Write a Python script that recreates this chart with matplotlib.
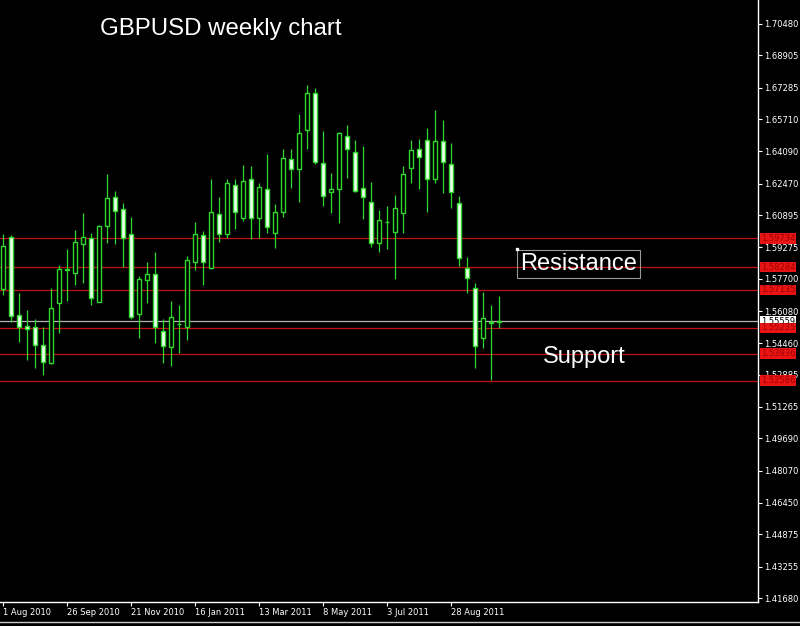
import numpy as np
import matplotlib.pyplot as plt

# weekly GBPUSD candles, first one is the week of 1 Aug 2010
opens = [1.5719, 1.5979, 1.5588, 1.5533, 1.5528, 1.5438, 1.5347, 1.5648, 1.5814, 1.5799,
         1.5944, 1.5974, 1.5653, 1.6035, 1.6180, 1.6120, 1.5994, 1.5593, 1.5764, 1.5794,
         1.5508, 1.5428, 1.5543, 1.5528, 1.5854, 1.5989, 1.5824, 1.6095, 1.5994, 1.6240,
         1.6075, 1.6270, 1.6075, 1.6220, 1.5999, 1.6105, 1.6371, 1.6321, 1.6516, 1.6702,
         1.6351, 1.6205, 1.6220, 1.6486, 1.6406, 1.6225, 1.6155, 1.5949, 1.6055, 1.6005,
         1.6100, 1.6326, 1.6421, 1.6466, 1.6270, 1.6461, 1.6346, 1.6150, 1.5824, 1.5724,
         1.5473, 1.5553, 1.5553]
highs = [1.5994, 1.5989, 1.5698, 1.5613, 1.5568, 1.5528, 1.5724, 1.5839, 1.5919, 1.6015,
         1.6100, 1.5999, 1.6040, 1.6295, 1.6210, 1.6150, 1.6080, 1.5784, 1.5854, 1.5904,
         1.5568, 1.5658, 1.5638, 1.5884, 1.6055, 1.6010, 1.6270, 1.6180, 1.6270, 1.6270,
         1.6341, 1.6336, 1.6250, 1.6396, 1.6145, 1.6421, 1.6421, 1.6597, 1.6742, 1.6727,
         1.6511, 1.6301, 1.6506, 1.6541, 1.6466, 1.6436, 1.6255, 1.6115, 1.6135, 1.6190,
         1.6336, 1.6466, 1.6471, 1.6526, 1.6617, 1.6566, 1.6451, 1.6185, 1.5879, 1.5749,
         1.5703, 1.5638, 1.5683]
lows = [1.5688, 1.5553, 1.5453, 1.5362, 1.5322, 1.5287, 1.5342, 1.5498, 1.5658, 1.5739,
        1.5749, 1.5638, 1.5653, 1.5949, 1.5944, 1.5829, 1.5568, 1.5473, 1.5648, 1.5448,
        1.5347, 1.5332, 1.5397, 1.5463, 1.5814, 1.5739, 1.5819, 1.5954, 1.5974, 1.6020,
        1.6060, 1.5969, 1.5974, 1.5999, 1.5924, 1.6080, 1.6225, 1.6155, 1.6421, 1.6346,
        1.6135, 1.6100, 1.6050, 1.6275, 1.6205, 1.6070, 1.5929, 1.5904, 1.5919, 1.5769,
        1.5999, 1.6250, 1.6220, 1.6105, 1.6250, 1.6200, 1.6125, 1.5834, 1.5698, 1.5322,
        1.5423, 1.5262, 1.5523]
closes = [1.5934, 1.5583, 1.5528, 1.5518, 1.5438, 1.5352, 1.5623, 1.5819, 1.5819, 1.5954,
          1.5979, 1.5673, 1.6035, 1.6175, 1.6110, 1.5974, 1.5578, 1.5769, 1.5794, 1.5528,
          1.5433, 1.5578, 1.5545, 1.5864, 1.5994, 1.5854, 1.6105, 1.5994, 1.6250, 1.6105,
          1.6260, 1.6075, 1.6230, 1.6030, 1.6105, 1.6376, 1.6321, 1.6501, 1.6702, 1.6356,
          1.6185, 1.6220, 1.6501, 1.6421, 1.6210, 1.6180, 1.5949, 1.6065, 1.6057, 1.6125,
          1.6295, 1.6416, 1.6381, 1.6270, 1.6461, 1.6356, 1.6205, 1.5874, 1.5774, 1.5433,
          1.5573, 1.5548, 1.55559]

date_labels = ['1 Aug 2010', '26 Sep 2010', '21 Nov 2010', '16 Jan 2011',
               '13 Mar 2011', '8 May 2011', '3 Jul 2011', '28 Aug 2011']
price_ticks = [1.70480, 1.68905, 1.67285, 1.65710, 1.64090, 1.62470, 1.60895,
               1.59275, 1.57700, 1.56080, 1.54460, 1.52885, 1.51265, 1.49690,
               1.48070, 1.46450, 1.44875, 1.43255, 1.41680]
levels = [1.59734, 1.58284, 1.57135, 1.55235, 1.53936, 1.52586]
bid = 1.55559

LIME = '#2fd82f'
RED_LINE = '#c01010'

fig = plt.figure(figsize=(8, 6.26), dpi=100, facecolor='black')
ax = fig.add_axes([0, 24 / 626, 758 / 800, 602 / 626], facecolor='black')

o = np.array(opens)
h = np.array(highs)
l = np.array(lows)
c = np.array(closes)
idx = np.arange(len(o))

# wicks, then bodies on top (black = up week, white = down week)
ax.vlines(idx, l, h, color=LIME, lw=0.9, zorder=3)
up = c >= o
ax.bar(idx[up], (c - o)[up], bottom=o[up], width=0.6, color='black',
       edgecolor=LIME, lw=1.0, zorder=4)
ax.bar(idx[~up], (o - c)[~up], bottom=c[~up], width=0.6, color='#f2fff2',
       edgecolor=LIME, lw=1.0, zorder=4)

# support / resistance levels
for lv in levels:
    ax.axhline(lv, color=RED_LINE, lw=0.9, zorder=2)
ax.axhline(bid, color='#b4b4b4', lw=0.9, zorder=1)

ytr = ax.get_yaxis_transform()
ax.text(1.004, bid, f'{bid:.5f}', transform=ytr, ha='left', va='center',
        fontsize=6, color='black', zorder=5,
        bbox=dict(boxstyle='square,pad=0.1', fc='white', ec='none'))
for lv in levels:
    ax.text(1.004, lv, f'{lv:.5f}', transform=ytr, ha='left', va='center',
            fontsize=6, color='#a00000', zorder=6,
            bbox=dict(boxstyle='square,pad=0.1', fc='#e81414', ec='none'))

ax.set_xlim(-0.375, 94.375)
ax.set_ylim(1.41481, 1.71684)

ax.yaxis.tick_right()
ax.set_yticks(price_ticks)
ax.set_yticklabels([f'{p:.5f}' for p in price_ticks])
ax.set_xticks(np.arange(0, 8 * len(date_labels), 8))
ax.set_xticklabels(date_labels, ha='left')
ax.tick_params(axis='y', colors='white', labelsize=6, length=3, width=0.8, pad=1.5)
ax.tick_params(axis='x', colors='white', labelsize=6, length=3, width=0.8, pad=1.5)

for side in ['left', 'top']:
    ax.spines[side].set_visible(False)
for side in ['right', 'bottom']:
    ax.spines[side].set_color('white')
    ax.spines[side].set_linewidth(1)

# text objects placed on the chart
ax.text(64.6, 1.5844, 'Resistance', ha='left', va='center', fontsize=17,
        family='Liberation Sans', color='white', zorder=6,
        bbox=dict(boxstyle='square,pad=0.12', fc='none', ec='#9a9a9a', lw=0.8))
ax.plot([64.25], [1.5919], 's', ms=1.5, color='white', zorder=6)
ax.text(67.5, 1.5377, 'Support', ha='left', va='center', fontsize=17,
        family='Liberation Sans', color='white', zorder=6)

fig.text(100 / 800, 1 - 29 / 626, 'GBPUSD weekly chart', ha='left', va='center',
         fontsize=17.3, family='Liberation Sans', color='white')

fig.add_artist(plt.Line2D([0, 1], [0.006, 0.006], color='#c8c8c8', lw=1))

fig.savefig('out.png', dpi=100, facecolor='black')
